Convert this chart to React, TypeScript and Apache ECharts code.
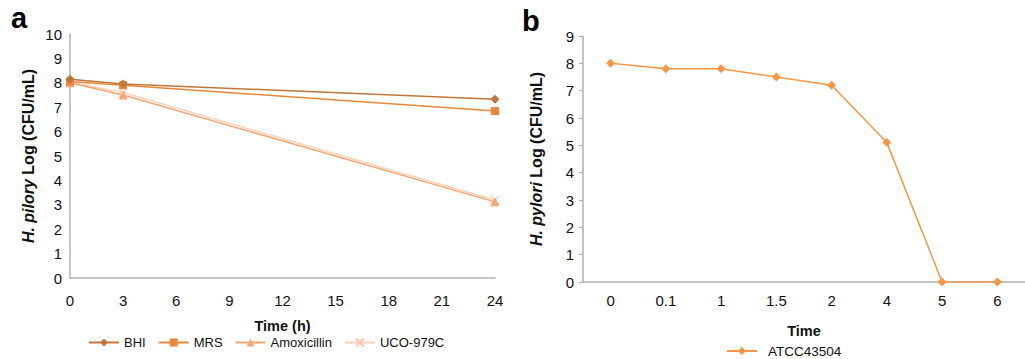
import React, { useEffect, useRef } from "react";
import * as echarts from "echarts";

const timeA = [0, 3, 24];
const bhi = [8.15, 7.95, 7.33];
const mrs = [8.05, 7.9, 6.84];
const amox = [8.0, 7.5, 3.12];
const uco = [8.02, 7.6, 3.2];
const timeB = ["0", "0.1", "1", "1.5", "2", "4", "5", "6"];
const atcc = [8.0, 7.8, 7.8, 7.5, 7.2, 5.1, 0, 0];

const FONT = "Liberation Sans, Arial, sans-serif";

export default function App() {
  const ref = useRef<HTMLDivElement>(null);
  useEffect(() => {
    document.body.style.margin = "0";
    const chart = echarts.init(ref.current!, null, { renderer: "svg" });
    const pair = (xs: number[], ys: number[]) => xs.map((x, i) => [x, ys[i]]);
    const axisLine = { show: true, lineStyle: { color: "#b0b0b0", width: 1.5 } };
    const labelStyle = { color: "#111", fontSize: 15, fontFamily: FONT };
    const xNameStyle = { color: "#111", fontSize: 14.5, fontWeight: "bold", fontFamily: FONT };
    const yNameStyle = {
      color: "#111",
      fontSize: 16,
      fontWeight: "bold",
      fontFamily: FONT,
      rich: { i: { fontStyle: "italic", fontWeight: "bold", fontSize: 16, fontFamily: FONT, color: "#111" } },
    };
    chart.setOption({
      animation: false,
      textStyle: { fontFamily: FONT },
      graphic: [
        { type: "text", left: 11, top: 3, style: { text: "a", fontSize: 29, fontWeight: "bold", fill: "#000", fontFamily: FONT } },
        { type: "text", left: 522, top: 6, style: { text: "b", fontSize: 29, fontWeight: "bold", fill: "#000", fontFamily: FONT } },
      ],
      grid: [
        { left: 70, top: 34, right: 530, bottom: 81 },
        { left: 583, top: 36, right: -11, bottom: 77 },
      ],
      legend: [
        {
          data: ["BHI", "MRS", "Amoxicillin", "UCO-979C"],
          left: 83,
          top: 331,
          itemWidth: 30,
          itemHeight: 10,
          itemGap: 12,
          textStyle: { color: "#111", fontSize: 13, fontFamily: FONT },
        },
        {
          data: ["ATCC43504"],
          left: 721,
          top: 339,
          itemWidth: 30,
          itemHeight: 10,
          textStyle: { color: "#111", fontSize: 13.5, fontFamily: FONT, padding: [0, 0, 0, 6] },
        },
      ],
      xAxis: [
        {
          type: "value",
          gridIndex: 0,
          min: 0,
          max: 24,
          interval: 3,
          axisLine,
          axisTick: { show: false },
          splitLine: { show: false },
          axisLabel: { ...labelStyle, margin: 15 },
          name: "Time (h)",
          nameLocation: "middle",
          nameGap: 40,
          nameTextStyle: xNameStyle,
        },
        {
          type: "category",
          gridIndex: 1,
          data: timeB,
          boundaryGap: true,
          axisLine,
          axisTick: { show: false },
          splitLine: { show: false },
          axisLabel: { ...labelStyle, margin: 11 },
          name: "Time",
          nameLocation: "middle",
          nameGap: 41,
          nameTextStyle: xNameStyle,
        },
      ],
      yAxis: [
        {
          type: "value",
          gridIndex: 0,
          min: 0,
          max: 10,
          interval: 1,
          axisLine,
          axisTick: { show: false },
          splitLine: { show: false },
          axisLabel: { ...labelStyle, margin: 8 },
          name: "{i|H. pilory} Log (CFU/mL)",
          nameLocation: "middle",
          nameGap: 34,
          nameTextStyle: yNameStyle,
        },
        {
          type: "value",
          gridIndex: 1,
          min: 0,
          max: 9,
          interval: 1,
          axisLine,
          axisTick: { show: true, length: 4, lineStyle: { color: "#b0b0b0" } },
          splitLine: { show: false },
          axisLabel: { ...labelStyle, margin: 9 },
          name: "{i|H. pylori} Log (CFU/mL)",
          nameLocation: "middle",
          nameGap: 39,
          nameTextStyle: yNameStyle,
        },
      ],
      series: [
        {
          name: "UCO-979C",
          type: "line",
          xAxisIndex: 0,
          yAxisIndex: 0,
          data: pair(timeA, uco),
          symbol: "path://M0,0L10,10M10,0L0,10",
          symbolSize: 8,
          lineStyle: { color: "#f9d3bb", width: 1.5 },
          itemStyle: { color: "#f9d3bb", borderColor: "#f9c8a8", borderWidth: 1.2 },
        },
        {
          name: "Amoxicillin",
          type: "line",
          xAxisIndex: 0,
          yAxisIndex: 0,
          data: pair(timeA, amox),
          symbol: "triangle",
          symbolSize: 9,
          lineStyle: { color: "#f5a672", width: 1.5 },
          itemStyle: { color: "#f5a672" },
        },
        {
          name: "MRS",
          type: "line",
          xAxisIndex: 0,
          yAxisIndex: 0,
          data: pair(timeA, mrs),
          symbol: "rect",
          symbolSize: 8,
          lineStyle: { color: "#e8873c", width: 1.5 },
          itemStyle: { color: "#e8873c" },
        },
        {
          name: "BHI",
          type: "line",
          xAxisIndex: 0,
          yAxisIndex: 0,
          data: pair(timeA, bhi),
          symbol: "diamond",
          symbolSize: 9,
          lineStyle: { color: "#c0763a", width: 1.5 },
          itemStyle: { color: "#c0763a" },
        },
        {
          name: "ATCC43504",
          type: "line",
          xAxisIndex: 1,
          yAxisIndex: 1,
          data: atcc,
          symbol: "diamond",
          symbolSize: 9,
          lineStyle: { color: "#f79646", width: 1.5 },
          itemStyle: { color: "#f79646" },
        },
      ],
    });
    return () => chart.dispose();
  }, []);
  return <div ref={ref} style={{ position: "absolute", left: 0, top: 0, width: 1025, height: 359 }} />;
}
